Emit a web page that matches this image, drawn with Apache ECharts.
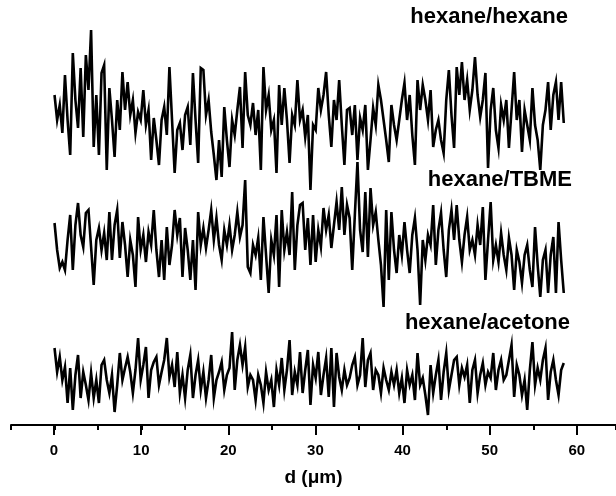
<!DOCTYPE html>
<html>
<head>
<meta charset="utf-8">
<style>
html, body {margin: 0; padding: 0; background: #fff;}
#main {width: 616px; height: 496px;}
</style>
</head>
<body>
<div id="main"></div>
<script src="https://cdn.jsdelivr.net/npm/echarts@6/dist/echarts.min.js"></script>
<script>
// sampling step along d (um), first point at d = 0
var dStep = 0.3;

// trace heights (a.u., offset already included in each trace)
var hexaneHexane = [
    330,305,320,292,350,305,270,372,325,297,
    357,288,370,335,395,278,330,270,352,360,
    255,337,305,268,325,295,353,315,343,310,
    325,292,313,305,335,300,315,265,307,285,
    260,305,318,290,358,305,252,295,302,275,
    310,318,280,352,305,262,357,355,310,325,
    293,270,245,285,248,318,285,258,305,290,
    315,338,277,353,310,300,322,290,315,255,
    358,315,330,295,305,252,340,300,337,305,
    262,310,300,345,305,315,288,310,235,300,
    295,337,315,330,353,310,278,325,305,345,
    300,260,315,317,290,320,265,307,295,320,
    255,285,317,300,340,325,305,285,263,320,
    300,285,305,325,342,305,330,290,260,345,
    315,340,325,305,335,278,295,305,285,272,
    325,355,310,277,358,330,363,325,345,315,
    335,368,330,308,325,352,257,315,337,295,
    277,320,305,325,277,315,353,305,325,273,
    315,300,285,337,300,285,255,300,315,343,
    295,330,343,305,343,302
];
var hexaneTBME = [
    202,175,157,163,155,185,210,155,200,222,
    190,178,212,215,178,140,185,197,175,192,
    165,213,165,200,215,167,203,180,148,185,
    170,138,208,175,190,163,193,180,215,175,
    148,185,145,198,160,180,215,190,207,148,
    197,175,145,185,135,213,180,197,177,195,
    215,185,207,180,165,195,180,200,175,190,
    213,188,200,245,158,152,180,170,187,145,
    208,170,132,185,170,210,138,215,175,193,
    170,233,155,200,220,222,175,207,160,210,
    163,195,178,217,195,210,177,200,223,195,
    238,190,220,207,155,210,263,195,173,233,
    168,237,200,213,185,160,118,215,145,213,
    175,152,190,170,203,175,152,190,207,175,
    120,185,165,190,180,220,160,195,212,175,
    148,195,215,185,220,185,163,190,208,175,
    185,170,200,180,218,145,185,223,165,180,
    163,192,170,155,187,170,135,175,163,142,
    170,180,155,138,198,160,128,165,175,132,
    170,188,132,203,165,132
];
var hexaneAcetone = [
    77,53,68,45,58,22,57,15,50,70,
    27,53,40,25,52,27,45,22,60,65,
    45,32,50,13,40,72,45,57,68,53,
    32,55,87,45,60,78,27,55,63,68,
    40,53,65,87,48,60,38,73,32,50,
    27,55,70,27,50,65,35,53,27,45,
    70,27,45,53,63,35,50,57,93,35,
    65,80,60,78,38,50,45,25,50,40,
    22,53,35,45,18,55,40,67,35,55,
    85,30,53,40,73,32,55,75,20,60,
    47,73,30,50,67,28,77,18,72,48,
    35,55,40,47,60,68,40,50,87,38,
    65,72,35,55,50,32,57,45,35,53,
    40,55,32,47,22,55,40,50,25,72,
    40,47,30,10,60,32,50,65,25,53,
    72,35,50,65,68,40,57,48,60,22,
    55,65,32,50,62,40,53,47,72,35,
    55,65,45,50,65,80,28,60,50,30,
    45,15,55,83,40,57,45,65,77,25,
    53,65,45,30,55,62
];

var traceNames = ['hexane/hexane', 'hexane/TBME', 'hexane/acetone'];
var traces = [hexaneHexane, hexaneTBME, hexaneAcetone];
var xTitle = 'd (\u03bcm)';

function toPairs(values) {
    var out = [];
    for (var i = 0; i < values.length; i++) {
        out.push([+(i * dStep).toFixed(2), values[i]]);
    }
    return out;
}

var chart = echarts.init(document.getElementById('main'), null, {renderer: 'canvas'});

var series = [];
for (var k = 0; k < traces.length; k++) {
    series.push({
        name: traceNames[k],
        type: 'line',
        xAxisIndex: 0,
        yAxisIndex: 0,
        data: toPairs(traces[k]),
        showSymbol: false,
        symbol: 'none',
        sampling: null,
        lineStyle: {color: '#000', width: 2.6, join: 'miter'},
        itemStyle: {color: '#000'}
    });
}

var labelFont = 'Liberation Sans, Arial, sans-serif';

var option = {
    animation: false,
    backgroundColor: '#fff',
    grid: [
        {left: 11, right: 0, top: 0, bottom: 71},
        {left: 54, right: 0, top: 0, bottom: 71}
    ],
    xAxis: [
        {
            type: 'value',
            gridIndex: 0,
            min: -5,
            max: 64.5,
            interval: 5,
            name: xTitle,
            nameLocation: 'middle',
            nameGap: 43,
            nameTextStyle: {color: '#000', fontSize: 19, fontWeight: 'bold', fontFamily: labelFont},
            axisLine: {show: true, onZero: false, lineStyle: {color: '#000', width: 2}},
            axisTick: {show: true, length: 5, lineStyle: {color: '#000', width: 2}},
            axisLabel: {show: false},
            splitLine: {show: false}
        },
        {
            type: 'value',
            gridIndex: 1,
            min: 0,
            max: 64.5,
            interval: 10,
            axisLine: {show: false, onZero: false},
            axisTick: {show: true, length: 10, lineStyle: {color: '#000', width: 2}},
            axisLabel: {
                color: '#000',
                fontSize: 15,
                fontWeight: 'bold',
                fontFamily: labelFont,
                margin: 18,
                showMaxLabel: false,
                formatter: function (v) {
                    return v % 10 === 0 ? String(v) : '';
                }
            },
            splitLine: {show: false}
        }
    ],
    yAxis: [
        {type: 'value', gridIndex: 0, min: 0, max: 425, show: false},
        {type: 'value', gridIndex: 1, min: 0, max: 425, show: false}
    ],
    graphic: [
        {type: 'text', right: 48, top: 6, style: {text: traceNames[0], fill: '#000', font: 'bold 22px ' + labelFont}},
        {type: 'text', right: 44, top: 169, style: {text: traceNames[1], fill: '#000', font: 'bold 22px ' + labelFont}},
        {type: 'text', right: 46, top: 312, style: {text: traceNames[2], fill: '#000', font: 'bold 22px ' + labelFont}}
    ],
    series: series
};

chart.setOption(option);
</script>
</body>
</html>
